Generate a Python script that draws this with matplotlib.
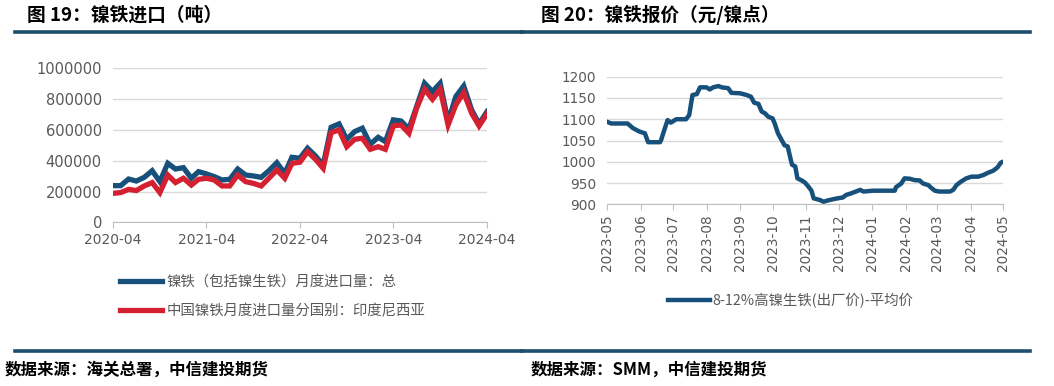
import matplotlib
matplotlib.use("Agg")
import matplotlib.pyplot as plt
from matplotlib.lines import Line2D
import numpy as np
import pandas as pd

plt.rcParams['font.family'] = ['Noto Sans CJK SC', 'DejaVu Sans']

# ---- 图19 镍铁进口（吨），月度 2020-04 ~ 2024-04
months = pd.date_range("2020-04-01", periods=49, freq="MS")
total_import = [238e3, 238e3, 281e3, 268e3, 292e3, 335e3, 264e3, 383e3, 346e3, 355e3,
                286e3, 329e3, 314e3, 297e3, 275e3, 279e3, 346e3, 307e3, 301e3, 292e3,
                335e3, 387e3, 318e3, 422e3, 416e3, 481e3, 431e3, 372e3, 617e3, 639e3,
                539e3, 589e3, 611e3, 507e3, 552e3, 524e3, 665e3, 658e3, 606e3, 751e3,
                903e3, 849e3, 903e3, 654e3, 816e3, 885e3, 730e3, 639e3, 719e3]
indonesia_import = [188e3, 193e3, 214e3, 206e3, 236e3, 258e3, 193e3, 307e3, 258e3, 286e3,
                    242e3, 279e3, 286e3, 275e3, 236e3, 236e3, 307e3, 264e3, 253e3, 236e3,
                    286e3, 340e3, 286e3, 383e3, 390e3, 459e3, 409e3, 351e3, 582e3, 600e3,
                    491e3, 539e3, 546e3, 474e3, 491e3, 474e3, 626e3, 632e3, 578e3, 740e3,
                    864e3, 799e3, 864e3, 632e3, 762e3, 842e3, 708e3, 626e3, 704e3]
left_ticks = ["2020-04", "2021-04", "2022-04", "2023-04", "2024-04"]

# ---- 图20 8-12%高镍生铁(出厂价)-平均价
price_dates = ["2023-05-01", "2023-05-05", "2023-05-20", "2023-05-25", "2023-05-31",
               "2023-06-05", "2023-06-08", "2023-06-19", "2023-06-20", "2023-06-23",
               "2023-06-26", "2023-06-29", "2023-07-04", "2023-07-13", "2023-07-16",
               "2023-07-19", "2023-07-23", "2023-07-26", "2023-08-01", "2023-08-04",
               "2023-08-07", "2023-08-12", "2023-08-15", "2023-08-21", "2023-08-24",
               "2023-09-01", "2023-09-07", "2023-09-11", "2023-09-14", "2023-09-18",
               "2023-09-21", "2023-09-24", "2023-09-27", "2023-10-01", "2023-10-03",
               "2023-10-06", "2023-10-09", "2023-10-12", "2023-10-15", "2023-10-17",
               "2023-10-19", "2023-10-22", "2023-10-24", "2023-10-28", "2023-10-31",
               "2023-11-03", "2023-11-06", "2023-11-08", "2023-11-14", "2023-11-17",
               "2023-11-21", "2023-11-26", "2023-11-30", "2023-12-05", "2023-12-08",
               "2023-12-13", "2023-12-17", "2023-12-21", "2023-12-24", "2024-01-02",
               "2024-01-22", "2024-01-23", "2024-01-28", "2024-01-31", "2024-02-05",
               "2024-02-09", "2024-02-14", "2024-02-17", "2024-02-22", "2024-02-25",
               "2024-02-28", "2024-03-03", "2024-03-13", "2024-03-16", "2024-03-19",
               "2024-03-23", "2024-03-28", "2024-04-02", "2024-04-08", "2024-04-13",
               "2024-04-17", "2024-04-22", "2024-04-26", "2024-04-29", "2024-05-01"]
price_values = [1094, 1090, 1090, 1079, 1071,
                1067, 1046, 1046, 1051, 1075,
                1098, 1092, 1100, 1100, 1110,
                1157, 1159, 1175, 1175, 1170,
                1175, 1178, 1175, 1173, 1162,
                1161, 1157, 1153, 1139, 1136,
                1118, 1114, 1106, 1102, 1090,
                1067, 1053, 1039, 1036, 1014,
                993, 989, 961, 956, 951,
                942, 932, 914, 910, 906,
                909, 912, 914, 916, 922,
                926, 930, 934, 930, 932,
                932, 940, 949, 961, 960,
                957, 956, 949, 945, 938,
                932, 930, 930, 934, 945,
                953, 961, 965, 965, 969,
                974, 979, 987, 998, 1000]

W, H = 1054, 386
fig = plt.figure(figsize=(W / 100, H / 100), dpi=100)

def px(x0, y0, x1, y1):
    return [x0 / W, 1 - y1 / H, (x1 - x0) / W, (y1 - y0) / H]

navy = "#1d4e6e"
blue = "#17507a"
red = "#d42030"
gray = "#595959"
grid = "#d9d9d9"

# ---- left chart
ax1 = fig.add_axes(px(113, 68.3, 487, 222.3))
ax1.plot(months, total_import, color=blue, lw=3.8, solid_joinstyle="miter",
         label="镍铁（包括镍生铁）月度进口量：总")
ax1.plot(months, indonesia_import, color=red, lw=3.8, solid_joinstyle="miter",
         label="中国镍铁月度进口量分国别：印度尼西亚")
ax1.set_ylim(0, 1000000)
ax1.set_yticks(np.arange(0, 1000001, 200000))
ax1.set_yticklabels([f"{int(v)}" for v in np.arange(0, 1000001, 200000)],
                    family="DejaVu Sans", fontsize=10.5, color=gray)
ax1.set_xlim(months[0], months[-1])
ax1.set_xticks(pd.to_datetime(left_ticks))
ax1.set_xticklabels(left_ticks, family="DejaVu Sans", fontsize=10, color=gray)
ax1.tick_params(axis="y", length=0, pad=8)
ax1.tick_params(axis="x", length=4, color="#bfbfbf", pad=4)
ax1.grid(axis="y", color=grid, lw=1)
ax1.set_axisbelow(True)
for s in ["top", "right", "left"]:
    ax1.spines[s].set_visible(False)
ax1.spines["bottom"].set_color("#bfbfbf")
fig.legend(handles=ax1.get_lines(), loc="upper left", bbox_to_anchor=(107 / W, 1 - 262 / H),
           frameon=False, fontsize=10.4, handlelength=2.9, handletextpad=0.3,
           labelspacing=1.05, labelcolor=gray)

# ---- right chart
ax2 = fig.add_axes(px(607, 76.7, 1003, 204.3))
ax2.plot(pd.to_datetime(price_dates), price_values, color=blue, lw=3.2,
         label="8-12%高镍生铁(出厂价)-平均价")
ax2.set_ylim(900, 1200)
ax2.set_yticks(np.arange(900, 1201, 50))
ax2.set_yticklabels([str(v) for v in range(900, 1201, 50)],
                    family="DejaVu Sans", fontsize=9.8, color=gray)
month_ticks = pd.date_range("2023-05-01", "2024-05-01", freq="MS")
ax2.set_xlim(month_ticks[0], month_ticks[-1])
ax2.set_xticks(month_ticks)
ax2.set_xticklabels([d.strftime("%Y-%m") for d in month_ticks], rotation=90,
                    family="DejaVu Sans", fontsize=9.8, color=gray)
ax2.tick_params(axis="y", length=0, pad=8)
ax2.tick_params(axis="x", length=4, color="#bfbfbf", pad=3)
ax2.grid(axis="y", color=grid, lw=1)
ax2.set_axisbelow(True)
for s in ["top", "right", "left"]:
    ax2.spines[s].set_visible(False)
ax2.spines["bottom"].set_color("#bfbfbf")
fig.legend(handles=ax2.get_lines(), loc="upper left", bbox_to_anchor=(655 / W, 1 - 280 / H),
           frameon=False, fontsize=10.4, handlelength=2.9, handletextpad=0.2,
           labelcolor=gray)

# ---- titles, rules and sources
fig.text(27 / W, 1 - 15 / H, "图 19：镍铁进口（吨）", fontsize=13.5, fontweight="bold",
         va="center", ha="left")
fig.text(541 / W, 1 - 15 / H, "图 20：镍铁报价（元/镍点）", fontsize=13.4, fontweight="bold",
         va="center", ha="left")
for x0, x1 in [(15, 522), (522, 1030)]:
    fig.add_artist(Line2D([x0 / W, x1 / W], [1 - 32 / H, 1 - 32 / H], color=navy, lw=2.6))
    fig.add_artist(Line2D([x0 / W, x1 / W], [1 - 351 / H, 1 - 351 / H], color=navy, lw=2.6))
fig.text(5 / W, 1 - 370 / H, "数据来源：海关总署，中信建投期货", fontsize=11.9,
         fontweight="bold", va="center", ha="left")
fig.text(531 / W, 1 - 370 / H, "数据来源：SMM，中信建投期货", fontsize=11.9,
         fontweight="bold", va="center", ha="left")

fig.savefig("out.png", dpi=100)
